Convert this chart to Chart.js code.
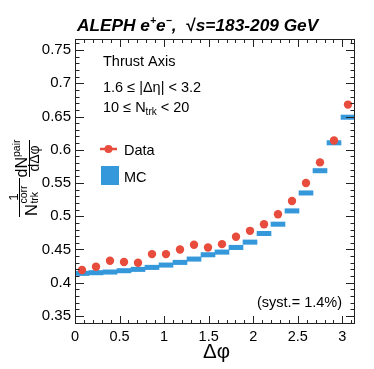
<!DOCTYPE html>
<html>
<head>
<meta charset="utf-8">
<script src="https://cdn.jsdelivr.net/npm/chart.js@4.4.1/dist/chart.umd.min.js"></script>
<style>
  html, body { margin: 0; padding: 0; background: #fff; }
</style>
</head>
<body>
<canvas id="myChart" width="374" height="369"></canvas>
<script>
// bin centres of the 20 delta-phi bins (0..pi)
const binCenters = [0.0785, 0.2356, 0.3927, 0.5498, 0.7069, 0.8639, 1.0210, 1.1781, 1.3352, 1.4923,
                    1.6493, 1.8064, 1.9635, 2.1206, 2.2777, 2.4347, 2.5918, 2.7489, 2.9060, 3.0631];
const dataValues = [0.419, 0.424, 0.433, 0.431, 0.430, 0.443, 0.443, 0.450, 0.457, 0.453,
                    0.458, 0.469, 0.478, 0.488, 0.503, 0.523, 0.550, 0.581, 0.614, 0.668];
const mcValues = [0.414, 0.415, 0.416, 0.418, 0.420, 0.423, 0.4265, 0.4305, 0.4355, 0.442,
                  0.446, 0.453, 0.461, 0.474, 0.488, 0.508, 0.535, 0.5685, 0.6105, 0.649];
const xTickLabels = ['0', '0.5', '1', '1.5', '2', '2.5', '3'];
const yTickLabels = ['0.35', '0.4', '0.45', '0.5', '0.55', '0.6', '0.65', '0.7', '0.75'];

const RED = '#e74c3c';
const BLUE = '#3498db';
const FONT = '"Liberation Sans", Arial, sans-serif';
const mcHalf = 0.0033; // half thickness of the MC dash, in y units

function drawPieces(ctx, x, y, pieces) {
    // pieces: [text, size, dy, style]
    pieces.forEach(p => {
        ctx.font = (p[3] || '') + ' ' + p[1] + 'px ' + FONT;
        ctx.fillText(p[0], x, y + (p[2] || 0));
        x += ctx.measureText(p[0]).width;
    });
    return x;
}

function piecesWidth(ctx, pieces) {
    let w = 0;
    pieces.forEach(p => {
        ctx.font = (p[3] || '') + ' ' + p[1] + 'px ' + FONT;
        w += ctx.measureText(p[0]).width;
    });
    return w;
}

const decorations = {
    id: 'decorations',
    afterDraw(chart) {
        const ctx = chart.ctx;
        const a = chart.chartArea;
        const xs = chart.scales.x;
        const ys = chart.scales.y;
        ctx.save();

        // frame
        ctx.strokeStyle = '#222';
        ctx.lineWidth = 1;
        ctx.strokeRect(a.left + 0.5, a.top + 0.5, a.right - a.left - 1, a.bottom - a.top - 1);

        // ticks on all four sides, pointing inwards
        ctx.beginPath();
        for (let i = 0; i <= 31; i++) {
            const px = Math.round(xs.getPixelForValue(i / 10)) + 0.5;
            const len = i % 5 === 0 ? 8 : 4;
            ctx.moveTo(px, a.bottom); ctx.lineTo(px, a.bottom - len);
            ctx.moveTo(px, a.top); ctx.lineTo(px, a.top + len);
        }
        for (let i = 34; i <= 76; i++) {
            const py = Math.round(ys.getPixelForValue(i / 100)) + 0.5;
            const len = i % 5 === 0 ? 9 : 4.5;
            ctx.moveTo(a.left, py); ctx.lineTo(a.left + len, py);
            ctx.moveTo(a.right, py); ctx.lineTo(a.right - len, py);
        }
        ctx.stroke();

        ctx.fillStyle = '#000';
        ctx.textBaseline = 'alphabetic';
        ctx.textAlign = 'left';

        // title
        drawPieces(ctx, 77, 31, [
            ['ALEPH e', 17.3, 0, 'italic bold'],
            ['+', 10.5, -7, 'italic bold'],
            ['e', 17.3, 0, 'italic bold'],
            ['\u2212', 10.5, -7, 'italic bold'],
            [',  ', 17.3, 0, 'italic bold'],
            ['\u221A', 17.3, 0, 'bold'],
            ['s=183-209 GeV', 17.3, 0, 'italic bold']
        ]);

        // text block
        drawPieces(ctx, 103, 66, [['Thrust Axis', 14.5]]);
        drawPieces(ctx, 103, 92, [['1.6 \u2264 |\u0394\u03B7| < 3.2', 14.5]]);
        drawPieces(ctx, 103, 111.5, [['10 \u2264 N', 14.5], ['trk', 10, 3], [' < 20', 14.5]]);

        // legend
        ctx.strokeStyle = RED;
        ctx.lineWidth = 2.5;
        ctx.beginPath();
        ctx.moveTo(100, 149); ctx.lineTo(117, 149);
        ctx.stroke();
        ctx.fillStyle = RED;
        ctx.beginPath();
        ctx.arc(108.5, 149, 4, 0, Math.PI * 2);
        ctx.fill();
        ctx.fillStyle = BLUE;
        ctx.fillRect(101, 166, 18, 19);
        ctx.fillStyle = '#000';
        drawPieces(ctx, 124, 155, [['Data', 14.5]]);
        drawPieces(ctx, 124, 182, [['MC', 14.5]]);

        // systematic note
        drawPieces(ctx, 257, 306.5, [['(syst.= 1.4%)', 14.5]]);

        // x title
        drawPieces(ctx, 203, 358, [['\u0394\u03C6', 20.5]]);

        // y title (rotated fractions)
        ctx.save();
        ctx.rotate(-Math.PI / 2);
        // screen (sx, sy) -> (u, v) = (-sy, sx)
        ctx.textAlign = 'center';
        ctx.font = '13.5px ' + FONT;
        ctx.fillText('1', -197, 17.5);
        ctx.lineWidth = 1;
        ctx.strokeStyle = '#000';
        ctx.beginPath();
        ctx.moveTo(-217, 19.5); ctx.lineTo(-178, 19.5);
        ctx.moveTo(-177, 29.5); ctx.lineTo(-140, 29.5);
        ctx.stroke();
        ctx.textAlign = 'left';
        let nx = -216;
        ctx.font = '16.5px ' + FONT;
        ctx.fillText('N', nx, 36.5);
        nx += ctx.measureText('N').width + 0.5;
        ctx.font = '10.5px ' + FONT;
        ctx.fillText('corr', nx, 27);
        ctx.fillText('trk', nx, 37.5);
        // dN^pair / dDelta phi
        const num = [['dN', 16], ['pair', 10.5, -7]];
        const nw = piecesWidth(ctx, num);
        drawPieces(ctx, -158.5 - nw / 2, 27, num);
        ctx.textAlign = 'center';
        ctx.font = '14px ' + FONT;
        ctx.fillText('d\u0394\u03C6', -158.5, 39);
        ctx.restore();

        ctx.restore();
    }
};

const chartCanvas = document.getElementById('myChart');

new Chart(chartCanvas, {
    type: 'scatter',
    data: {
        datasets: [{
            label: 'Data',
            data: binCenters.map((c, i) => ({ x: c, y: dataValues[i] })),
            backgroundColor: RED,
            borderWidth: 0,
            pointRadius: 4.2,
            pointHoverRadius: 4.2
        }, {
            type: 'bar',
            label: 'MC',
            data: binCenters.map((c, i) => ({ x: c, y: [mcValues[i] - mcHalf, mcValues[i] + mcHalf] })),
            backgroundColor: BLUE,
            borderWidth: 0,
            barPercentage: 1,
            categoryPercentage: 1,
            grouped: false
        }]
    },
    options: {
        responsive: false,
        animation: false,
        events: [],
        layout: { padding: { top: 39, right: 19, left: 0, bottom: 0 } },
        plugins: {
            legend: { display: false },
            title: { display: false },
            tooltip: { enabled: false }
        },
        scales: {
            x: {
                type: 'linear',
                min: 0,
                max: Math.PI,
                offset: false,
                grid: { display: false, drawTicks: false, offset: false },
                border: { display: false },
                afterBuildTicks: axis => { axis.ticks = xTickLabels.map(t => ({ value: Number(t) })); },
                afterFit: axis => { axis.height = 45; },
                ticks: {
                    autoSkip: false,
                    maxRotation: 0,
                    padding: 4,
                    color: '#000',
                    font: { family: FONT, size: 14.5 },
                    callback: (v, i) => xTickLabels[i]
                }
            },
            y: {
                type: 'linear',
                min: 0.3378,
                max: 0.7667,
                beginAtZero: false,
                grid: { display: false, drawTicks: false },
                border: { display: false },
                afterBuildTicks: axis => { axis.ticks = yTickLabels.map(t => ({ value: Number(t) })); },
                afterFit: axis => { axis.width = 75; },
                ticks: {
                    autoSkip: false,
                    padding: 4,
                    color: '#000',
                    font: { family: FONT, size: 15 },
                    callback: (v, i) => yTickLabels[i]
                }
            }
        }
    },
    plugins: [decorations]
});
</script>
</body>
</html>
